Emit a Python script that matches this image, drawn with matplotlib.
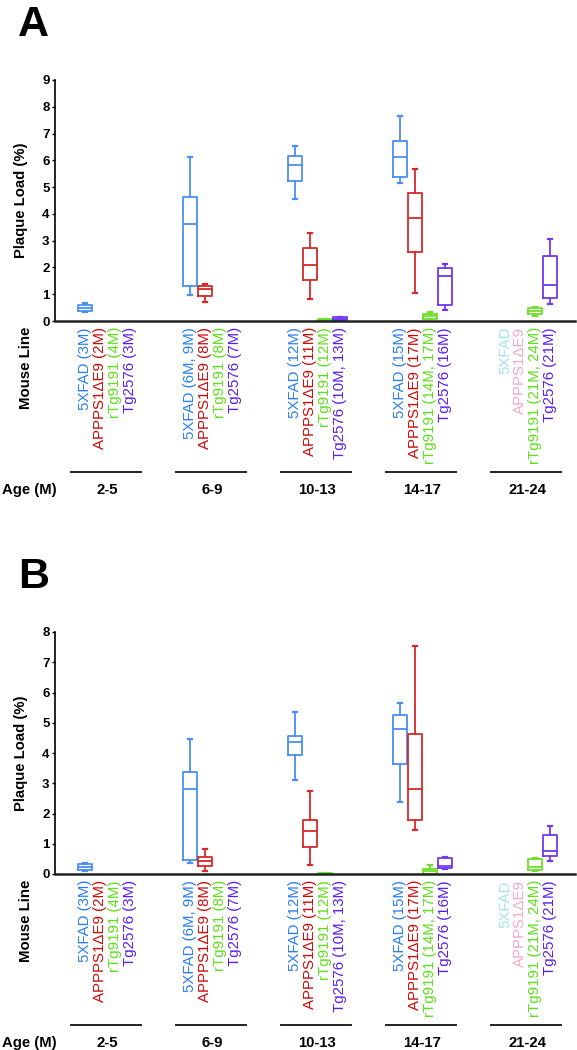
import matplotlib
matplotlib.use("Agg")
import matplotlib.pyplot as plt

plt.rcParams['font.family'] = ['Liberation Sans', 'DejaVu Sans']

# groups (age bins) and mouse lines
ages = ['2-5', '6-9', '10-13', '14-17', '21-24']
lines = ['5XFAD', 'APPPS1\u0394E9', 'rTg9191', 'Tg2576']

labels = [
    ['5XFAD (3M)', 'APPPS1\u0394E9 (2M)', 'rTg9191 (4M)', 'Tg2576 (3M)'],
    ['5XFAD (6M, 9M)', 'APPPS1\u0394E9 (8M)', 'rTg9191 (8M)', 'Tg2576 (7M)'],
    ['5XFAD (12M)', 'APPPS1\u0394E9 (11M)', 'rTg9191 (12M)', 'Tg2576 (10M, 13M)'],
    ['5XFAD (15M)', 'APPPS1\u0394E9 (17M)', 'rTg9191 (14M, 17M)', 'Tg2576 (16M)'],
    ['5XFAD', 'APPPS1\u0394E9', 'rTg9191 (21M, 24M)', 'Tg2576 (21M)'],
]

# box stats per age bin: (whisker low, q1, median, q3, whisker high), None = no data
# panel A
a_5xfad = [(0.35, 0.39, 0.50, 0.60, 0.66), (0.97, 1.32, 3.62, 4.63, 6.11),
           (4.56, 5.23, 5.83, 6.16, 6.54), (5.14, 5.38, 6.13, 6.71, 7.66), None]
a_appps1 = [None, (0.72, 0.93, 1.20, 1.32, 1.39), (0.81, 1.53, 2.10, 2.74, 3.30),
            (1.06, 2.59, 3.85, 4.79, 5.67), None]
a_rtg = [None, None, (0.0, 0.01, 0.03, 0.06, 0.09), (0.06, 0.09, 0.19, 0.26, 0.32),
         (0.20, 0.26, 0.36, 0.47, 0.54)]
a_tg = [None, None, (0.02, 0.03, 0.08, 0.14, 0.16), (0.41, 0.60, 1.68, 1.97, 2.12),
        (0.62, 0.87, 1.36, 2.44, 3.05)]

# panel B
b_5xfad = [(0.09, 0.13, 0.22, 0.33, 0.35), (0.38, 0.47, 2.82, 3.38, 4.46),
           (3.10, 3.94, 4.36, 4.56, 5.35), (2.38, 3.63, 4.80, 5.25, 5.66), None]
b_appps1 = [None, (0.11, 0.26, 0.44, 0.57, 0.83), (0.30, 0.88, 1.42, 1.78, 2.74),
            (1.44, 1.77, 2.82, 4.63, 7.54), None]
b_rtg = [None, None, (0.0, 0.0, 0.01, 0.02, 0.02), (0.01, 0.01, 0.09, 0.17, 0.31),
         (0.09, 0.14, 0.22, 0.50, 0.53)]
b_tg = [None, None, None, (0.18, 0.20, 0.28, 0.53, 0.55), (0.44, 0.61, 0.77, 1.29, 1.59)]

box_colors = ['#4a90f2', '#d42a2a', '#6ee02a', '#7138f2']
text_colors = ['#2a7ef2', '#cc0a0a', '#5ee01a', '#5a1ef0']
faded_colors = ['#a6e2f6', '#f4a8c8']  # 5XFAD / APPPS1 labels in 21-24

W, H = 577, 1050
fig = plt.figure(figsize=(W / 100, H / 100), dpi=100)


def panel(letter, letter_y, top_px, zero_px, ymax, series):
    left, right = 55, 575
    ax = fig.add_axes([left / W, 1 - zero_px / H, (right - left) / W, (zero_px - top_px) / H])
    for k, (data, col) in enumerate(zip(series, box_colors)):
        for g, s in enumerate(data):
            if s is None:
                continue
            st = dict(whislo=s[0], q1=s[1], med=s[2], q3=s[3], whishi=s[4], fliers=[])
            ax.bxp([st], positions=[7 * g + k], widths=0.88, capwidths=0.3,
                   showfliers=False,
                   boxprops=dict(color=col, lw=1.3),
                   whiskerprops=dict(color=col, lw=1.3),
                   capprops=dict(color=col, lw=1.6),
                   medianprops=dict(color=col, lw=1.3))
    ax.set_xlim(-2, 32.67)
    ax.set_ylim(0, ymax)
    ax.set_yticks(range(ymax + 1))
    ax.set_xticks([])
    for sp in ['top', 'right']:
        ax.spines[sp].set_visible(False)
    ax.spines['left'].set_linewidth(1.2)
    ax.spines['bottom'].set_linewidth(1.8)
    ax.spines['bottom'].set_color('#222222')
    ax.tick_params(axis='y', length=2, width=1, pad=2, labelsize=9.5)
    for t in ax.get_yticklabels():
        t.set_fontweight('bold')

    # rotated mouse-line labels, group lines and age text
    span = zero_px - top_px
    for g in range(5):
        for k in range(4):
            col = text_colors[k]
            if g == 4 and k < 2:
                col = faded_colors[k]
            ax.annotate(labels[g][k], xy=(7 * g + k, 0), xycoords=('data', 'axes fraction'),
                        xytext=(0, -6 * 0.72), textcoords='offset points',
                        rotation=90, ha='center', va='top', fontsize=10.8, color=col)
        ax.plot([7 * g - 0.9, 7 * g + 3.75], [-151 / span] * 2, color='#222222', lw=1.4,
                transform=ax.get_xaxis_transform(), clip_on=False)
        ax.text(7 * g + 1.5, -169 / span, ages[g], transform=ax.get_xaxis_transform(),
                ha='center', va='center', fontsize=10.7, fontweight='bold')

    fig.text(2 / W, 1 - (zero_px + 169) / H, 'Age (M)', ha='left', va='center',
             fontsize=10.7, fontweight='bold')
    fig.text(21 / W, 1 - (top_px + zero_px) / 2 / H, 'Plaque Load (%)', rotation=90,
             ha='center', va='center', fontsize=10.7, fontweight='bold')
    fig.text(26 / W, 1 - (zero_px + 47) / H, 'Mouse Line', rotation=90,
             ha='center', va='center', fontsize=10.8, fontweight='bold')
    fig.text(18 / W, 1 - letter_y / H, letter, ha='left', va='baseline',
             fontsize=31, fontweight='bold')
    return ax


panel('A', 36, 80, 321, 9, [a_5xfad, a_appps1, a_rtg, a_tg])
panel('B', 588, 632, 874, 8, [b_5xfad, b_appps1, b_rtg, b_tg])

fig.savefig('out.png', dpi=100)
